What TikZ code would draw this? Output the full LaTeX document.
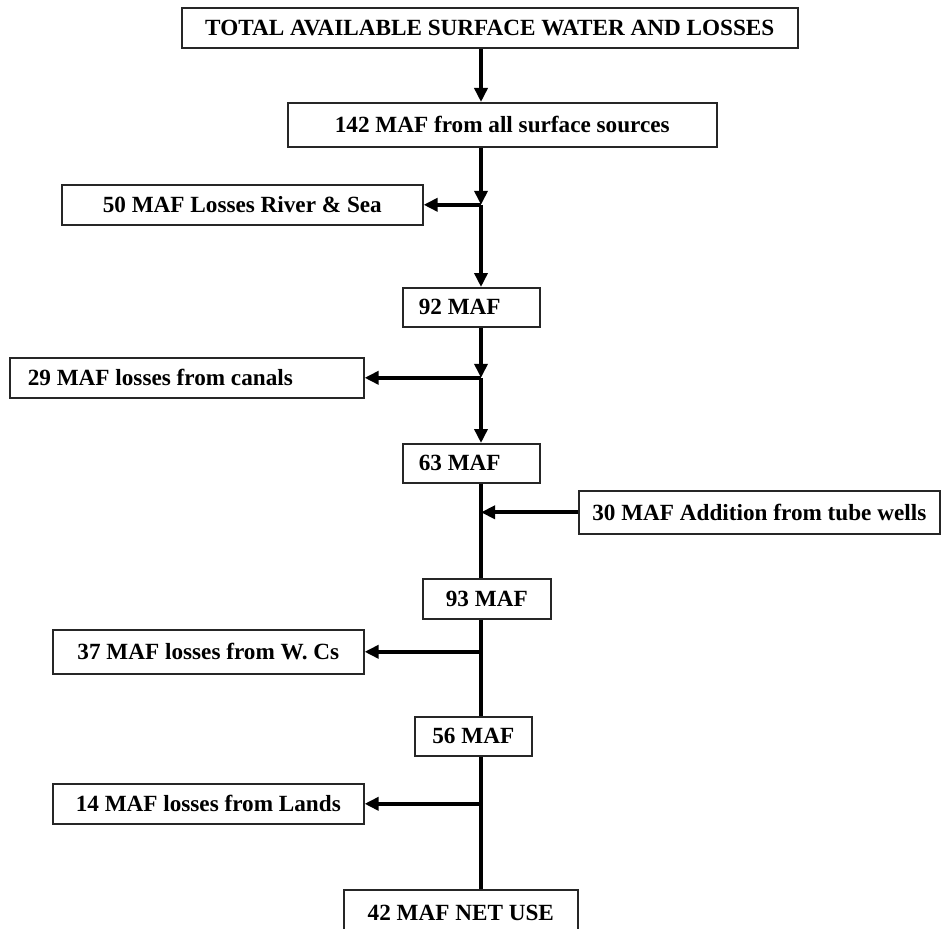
\documentclass[tikz,border=0pt]{standalone}
\usepackage{fontspec}
\setmainfont{Liberation Serif}
\usetikzlibrary{arrows.meta}
\tikzset{
  box/.style={draw=black!85, line width=1.6pt, inner sep=0pt, anchor=north west,
    font=\bfseries\fontsize{23.2}{27}\selectfont, align=center},
  flow/.style={line width=3.8pt, -{Triangle[length=14pt,width=13pt]}},
  plain/.style={line width=3.8pt}
}
\begin{document}
\begin{tikzpicture}[x=1pt,y=-1pt]
\useasboundingbox (0,0) rectangle (941,928);
\clip (0,0) rectangle (941,928);
\fill[white] (0,0) rectangle (941,928);
% boxes
\node[box, minimum width=616pt, minimum height=40pt] (b1) at (181,7) {TOTAL AVAILABLE SURFACE WATER AND LOSSES};
\node[box, minimum width=429pt, minimum height=44pt] (b2) at (287,102) {142 MAF from all surface sources};
\node[box, minimum width=361pt, minimum height=40pt] (b3) at (61,184) {50 MAF Losses River \& Sea};
\node[box, minimum width=137pt, minimum height=39pt] (b92) at (402,287) {\makebox[105pt][l]{92 MAF}};
\node[box, minimum width=354pt, minimum height=40pt] (b29) at (9,357) {\makebox[318pt][l]{29 MAF losses from canals}};
\node[box, minimum width=137pt, minimum height=39pt] (b63) at (402,443) {\makebox[105pt][l]{63 MAF}};
\node[box, minimum width=361pt, minimum height=43pt] (b30) at (578,490) {30 MAF Addition from tube wells};
\node[box, minimum width=128pt, minimum height=40pt] (b93) at (422,578) {93 MAF};
\node[box, minimum width=311pt, minimum height=44pt] (b37) at (52,629) {37 MAF losses from W. Cs};
\node[box, minimum width=117pt, minimum height=39pt] (b56) at (414,716) {56 MAF};
\node[box, minimum width=311pt, minimum height=40pt] (b14) at (52,783) {14 MAF losses from Lands};
\node[box, minimum width=234pt, minimum height=46pt] (b42) at (343,889) {42 MAF NET USE};
% main line x
\coordinate (m) at (481,0);
\coordinate (j1) at (m |- b3.east);
\coordinate (j2) at (m |- b29.east);
\coordinate (j3) at (m |- b30.west);
\coordinate (j4) at (m |- b37.east);
\coordinate (j5) at (m |- b14.east);
% connectors
\draw[flow] (m |- b1.south) -- (m |- b2.north);
\draw[flow] (m |- b2.south) -- (j1);
\draw[flow] (j1) -- (b3.east);
\draw[flow] (j1) -- (m |- b92.north);
\draw[flow] (m |- b92.south) -- (j2);
\draw[flow] (j2) -- (b29.east);
\draw[flow] (j2) -- (m |- b63.north);
\draw[plain] (m |- b63.south) -- (m |- b93.north);
\draw[flow] (b30.west) -- (j3);
\draw[plain] (m |- b93.south) -- (m |- b56.north);
\draw[flow] (j4) -- (b37.east);
\draw[plain] (m |- b56.south) -- (m |- b42.north);
\draw[flow] (j5) -- (b14.east);
\end{tikzpicture}
\end{document}
